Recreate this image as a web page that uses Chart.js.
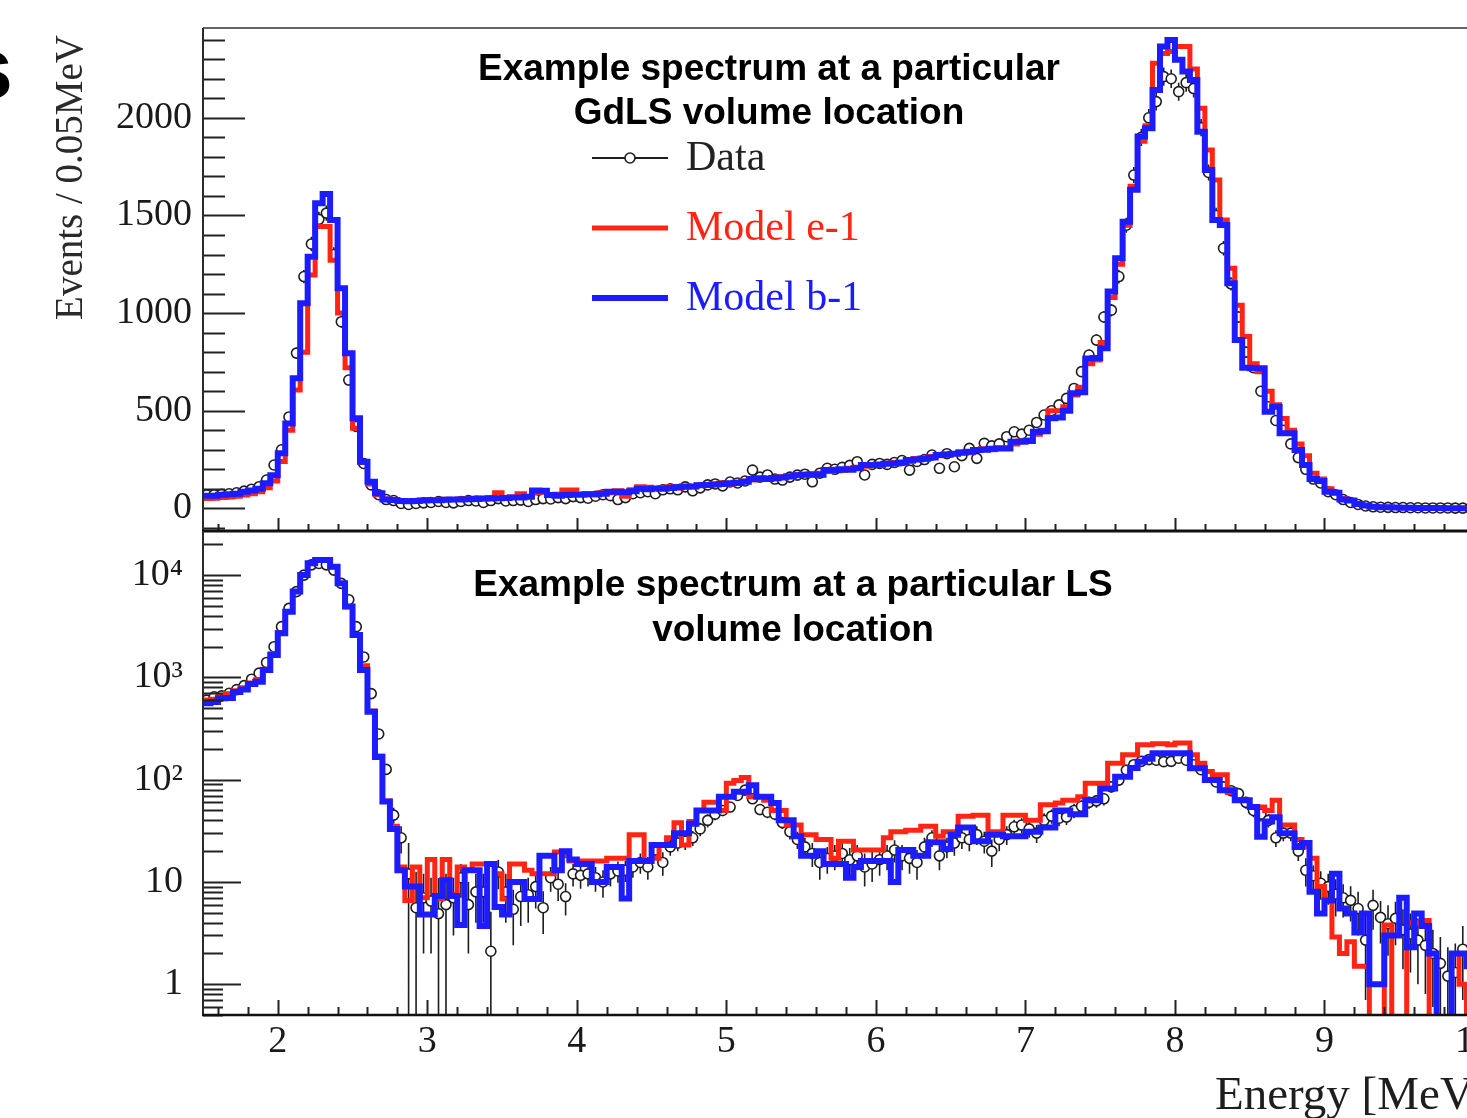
<!DOCTYPE html>
<html><head><meta charset="utf-8">
<script src="https://cdn.jsdelivr.net/npm/chart.js@4.4.1/dist/chart.umd.min.js"></script>
<style>
html,body{margin:0;padding:0;background:#fff;overflow:hidden;width:1467px;height:1118px;}
canvas{position:absolute;left:0;}
#topPanel{top:0;}
#botPanel{top:500px;}
</style></head><body>
<canvas id="topPanel" width="1520" height="545"></canvas>
<canvas id="botPanel" width="1520" height="618"></canvas>
<script>
// ---------------- data ----------------
const binStart = 1.5;           // MeV, left edge of first bin
const binWidth = 0.05;          // MeV
const energyTicks = [2,3,4,5,6,7,8,9,10];
const gdlsTicks = [0,500,1000,1500,2000];
const lsTicks = [1,10,100,1000,10000];
const lsTickLabels = ['1','10','10\u00B2','10\u00B3','10\u2074'];
const seriesNames = ['Data','Model e-1','Model b-1'];
const gdlsTitle = ['Example spectrum at a particular','GdLS volume location'];
const lsTitle = ['Example spectrum at a particular LS','volume location'];
const yTitle = 'Events / 0.05MeV';
const xTitle = 'Energy [MeV]';

// top panel (GdLS), linear
const gdlsModelB = [65,65,70,72,75,85,92,100,128,170,
282,435,666,1050,1289,1562,1610,1477,1127,794,
461,239,136,77,45,43,38,36,38,40,
42,42,44,45,45,46,48,50,50,52,
53,55,55,60,92,90,68,65,68,70,
70,72,72,75,85,85,82,88,100,98,
102,100,104,108,110,112,118,120,122,125,
128,130,136,150,154,150,155,158,165,170,
172,175,172,196,195,200,198,205,222,222,
225,228,230,235,247,250,255,260,273,275,
280,285,290,299,300,305,307,307,341,341,
345,392,395,461,465,500,589,595,768,770,
820,1110,1281,1468,1631,1904,1947,2143,2365,2399,
2297,2237,2194,1929,1733,1477,1451,1153,862,720,
717,717,495,520,384,384,299,222,150,140,
85,80,45,40,22,15,8,6,5,4,
3,3,2,2,2,2,1,1,1,1];
const gdlsModelE = [50,52,55,58,62,68,75,85,105,140,
240,400,606,800,1195,1443,1443,1270,1000,720,
410,235,125,70,48,40,38,36,40,42,
44,40,46,45,48,50,52,48,55,80,
55,58,75,60,80,85,70,72,94,94,
72,75,70,80,80,90,62,95,110,108,
100,106,110,104,115,110,120,118,125,130,
125,135,140,145,150,155,150,162,160,172,
175,170,180,190,200,195,205,210,215,225,
220,230,235,232,240,255,250,265,270,280,
278,290,285,300,305,300,310,310,330,345,
350,380,400,500,500,520,580,620,740,760,
850,1080,1250,1450,1650,1880,1960,2280,2330,2340,
2365,2365,2250,2049,1835,1682,1477,1230,1040,880,
740,700,600,530,460,400,330,270,180,150,
100,80,50,40,25,15,10,7,5,4,
3,3,2,2,2,1,1,1,1,1];
const gdlsData = [68,70,72,75,80,88,98,111,145,222,
300,468,795,1187,1354,1480,1512,1300,956,657,
420,230,120,70,45,40,25,20,25,28,
30,35,30,28,35,40,38,30,40,50,
38,40,42,35,45,50,48,55,50,60,
55,52,62,70,65,45,55,75,80,85,
75,95,100,95,110,90,105,120,125,115,
135,130,140,196,160,171,150,145,160,170,
175,136,180,205,200,210,220,239,171,225,
230,225,235,245,196,240,250,273,205,280,
213,270,307,256,333,320,330,367,392,380,
400,440,478,500,530,563,614,700,785,862,
980,1015,1187,1450,1707,1900,2000,2083,2211,2200,
2134,2180,2150,1950,1720,1500,1332,1150,980,800,
720,600,520,450,400,330,260,200,150,130,
85,70,45,30,20,12,8,6,5,4,
4,3,3,2,2,2,2,1,1,1];
const gdlsDataErr = [10,10,10,10,10,11,11,12,13,16,
18,22,28,34,37,39,39,37,31,26,
20,16,12,10,8,8,7,7,7,7,
7,7,7,7,7,7,7,7,7,8,
8,8,8,7,8,8,8,8,8,8,
8,8,8,9,9,8,8,9,9,10,
9,10,10,10,10,10,10,11,11,11,
12,11,12,14,13,13,12,12,13,13,
13,12,13,14,14,15,15,15,13,15,
15,15,15,16,14,15,16,17,15,17,
15,17,18,16,18,18,18,19,20,20,
20,21,22,22,23,24,25,26,28,30,
31,32,35,38,41,44,45,46,47,47,
46,47,46,44,41,39,37,34,31,28,
27,25,23,21,20,18,16,14,12,11,
9,8,7,6,5,4,3,3,2,2,
2,2,2,2,2,2,2,1,1,1];

// bottom panel (LS), log
const lsModelB = [558,575,624,630,720,760,860,908,1182,1656,
2700,4390,6900,10040,13070,14080,14080,12100,8330,4920,
2600,1182,462,167,61,33,13,9,9,4.8,
4.8,7.3,10.4,7.3,3.8,13,13,3.7,15,5.7,
4.8,10,10,6.8,6.8,18,18,13,20,16.6,
15,15,10,10,14,14,6.9,16,16,16,
23,23,23,30,30,37,50,50,50,68,
68,76,76,88,68,68,59,40,40,28,
18,18,20,15,15,15,11,14,16,16,
16,16,10,20.5,20.5,18,18,24.5,24.5,21,
29,34,34,25,25,29,29,28,28,28,
31,31,34,34,50,50,46,46,63,63,
82,82,107,107,130,150,160,181,181,181,
181,181,129,129,99,99,79,79,63,63,
54,27.6,39,43,30,30,22,24,8,4.9,
6.6,12,5.5,4.9,3.2,4.9,1.0,1.0,3.0,3.0,
7,2.3,4.9,3.7,2.0,0,0,2.0,2.0,1.5];
const lsModelE = [600,610,650,690,740,790,880,950,1200,1700,
2750,4400,6900,10000,13000,14000,14000,12000,8300,4900,
2600,1300,470,170,62,35,14,6.6,14,7,
16.6,6.8,16.6,7.5,14,13,15,15,15,12,
6.8,15,15,13,12,12,12,19.6,18,16,
16,16,16,16,17,17,17,29,29,16,
17,23,27,38,23,39,50,60,60,50,
92,98,105,68,68,63,50,50,36,36,
29,29,26,26,17,25,25,20.5,20.5,20.5,
20.5,27,31,31,32,32,35,35,28,31,
31,44,44,45,45,31,31,45,45,45,
40,40,57,57,59,63,63,68,92,92,
92,145,145,175,175,220,220,225,225,220,
228,228,175,145,120,112,112,75,63,63,
54,54,50,63,36,36,26,22,17,9,
6.6,2.9,2.0,2.6,1.5,1.5,0,0,3.8,0,
0,4.0,4.0,4.2,0,0,0,2.0,1.0,0];
const lsData = [600,647,660,700,760,830,960,1100,1400,1996,
3133,4730,6900,10000,12600,13000,12600,11200,8300,5750,
3133,1585,694,280,126,45,27,12,5.6,7,
6.5,4.9,6,7,11,6,8,8,2.1,12.5,
8,5.4,7.2,7.5,9,5.6,11,9.5,7.2,12,
11.6,12,11,10,12,12.8,13,14,15.5,14,
20.5,15.5,22,24,25,27,33,40,46,50,
54,70,79,65,51,48,46,38,31,26,
22,19,15.5,17,18,19,16.5,18,14,15,
16.5,18,20.5,18,17,15.5,22,27,18,22,
24,27,26,29,25,20,26,29,34.6,36,
33,30,40,44,42,43,50,55,60,62,
65,85,99,124,140,151,157,155,150,151,
162,155,140,125,107,95,85,78,73,60,
50,46,40,27,30,30,20,13,11.5,9.7,
9,7.6,7,6.6,5.5,2.7,5.9,4.5,3.9,4.4,
3.4,3.1,2.7,2.4,2.0,1.6,1.2,1.3,2.2,1.8];
const lsDataErr = [25,25,26,26,28,29,31,33,37,45,
56,69,83,100,112,114,112,106,91,76,
56,40,26,17,11,8,8,12,7,5,
4.5,6,6,4,4,4,4,4,3,4,
4,3,3.5,3.5,3.5,2.5,3,3,2.5,3,
3,3,3,3,3,3,3,3,3.5,3.5,
4,4,4,4,4.5,4.5,5,6,6,6,
6,7,7,7,6,6,6,5,5,5,
5,5,5,5,5,5,5,5,5,5,
5,5,5,5,5,5,5,5,5,5,
6,6,6,6,6,6,6,6,6,6,
6,6,7,7,7,7,8,8,8,9,
9,10,11,12,13,13,13,13,13,13,
13,13,12,12,11,10,10,9,9,8,
7,7,6,5,5,5,4,4,3,3,
3,3,2.5,2.5,2.5,2,2.5,2,2,2,
2,1.8,1.7,1.6,1.4,1.3,1.1,1.2,1.5,1.4];

// ---------------- styling ----------------
const RED = '#ff2414', BLUE = '#1c1cff', INK = '#1e1e1e';
const SERIF = '"Liberation Serif","Times New Roman",serif';
const SANS = '"Liberation Sans",Arial,sans-serif';

const nBins = gdlsData.length;
const edges = Array.from({length: nBins + 1}, (_, i) => +(binStart + i * binWidth).toFixed(3));
const centers = edges.slice(0, -1).map(e => +(e + binWidth / 2).toFixed(3));
function histPoints(vals, floor) {
  const pts = vals.map((v, i) => ({x: edges[i], y: v > 0 ? v : floor}));
  pts.push({x: edges[nBins], y: pts[nBins - 1].y});
  return pts;
}
function dataPoints(vals) { return vals.map((v, i) => ({x: centers[i], y: v})); }

function datasets(dataVals, eVals, bVals, floor) {
  return [
    {label: seriesNames[0], data: dataPoints(dataVals), showLine: false, pointRadius: 5, pointBorderWidth: 1.6,
     pointBorderColor: INK, pointBackgroundColor: '#fff', borderColor: INK, order: 2},
    {label: seriesNames[1], data: histPoints(eVals, floor), stepped: 'before', borderColor: RED, borderWidth: 5,
     pointRadius: 0, fill: false, borderJoinStyle: 'miter', order: 1},
    {label: seriesNames[2], data: histPoints(bVals, floor), stepped: 'before', borderColor: BLUE, borderWidth: 6,
     pointRadius: 0, fill: false, borderJoinStyle: 'miter', order: 0}
  ];
}

function drawErrorBars(chart, errs) {
  const xs = chart.scales.x, ys = chart.scales.y, a = chart.chartArea, ctx = chart.ctx;
  ctx.save();
  ctx.beginPath(); ctx.rect(a.left, a.top, a.right - a.left, a.bottom - a.top); ctx.clip();
  ctx.strokeStyle = INK; ctx.lineWidth = 1.6; ctx.beginPath();
  chart.data.datasets[0].data.forEach((p, i) => {
    const e = errs[i];
    const px = xs.getPixelForValue(p.x);
    const top = ys.getPixelForValue(p.y + e);
    const bot = (p.y - e > ys.min) ? ys.getPixelForValue(p.y - e) : a.bottom + 2;
    ctx.moveTo(px, top); ctx.lineTo(px, bot);
  });
  ctx.stroke(); ctx.restore();
}

function drawXTicks(chart, majorLen, minorLen) {
  const xs = chart.scales.x, a = chart.chartArea, ctx = chart.ctx;
  ctx.save(); ctx.strokeStyle = '#222'; ctx.lineWidth = 2; ctx.beginPath();
  for (let k = Math.ceil(xs.min / 0.2); k * 0.2 <= xs.max + 1e-9; k++) {
    const e = k * 0.2;
    const major = Math.abs(e - Math.round(e)) < 1e-6;
    const px = Math.round(xs.getPixelForValue(e)) + 0.5;
    ctx.moveTo(px, a.bottom); ctx.lineTo(px, a.bottom - (major ? majorLen : minorLen));
  }
  ctx.stroke(); ctx.restore();
}

function drawYTicks(chart, list, majorLen, minorLen) {
  const ys = chart.scales.y, a = chart.chartArea, ctx = chart.ctx;
  ctx.save(); ctx.strokeStyle = '#222'; ctx.lineWidth = 2; ctx.beginPath();
  list.forEach(t => {
    if (t.v < ys.min || t.v > ys.max) return;
    const py = Math.round(ys.getPixelForValue(t.v)) + 0.5;
    ctx.moveTo(a.left, py); ctx.lineTo(a.left + (t.major ? majorLen : minorLen), py);
  });
  ctx.stroke(); ctx.restore();
}

function drawLines(ctx, lines, cx, cy0, dy, font) {
  ctx.save(); ctx.font = font; ctx.fillStyle = '#000'; ctx.textAlign = 'center'; ctx.textBaseline = 'middle';
  lines.forEach((t, i) => ctx.fillText(t, cx, cy0 + i * dy));
  ctx.restore();
}

// ---------------- top panel ----------------
const topTickList = [];
for (let v = -100; v <= 2400; v += 100) topTickList.push({v, major: gdlsTicks.includes(v)});

const topDecor = {
  id: 'topDecor',
  beforeDatasetsDraw(chart) { drawErrorBars(chart, gdlsDataErr); },
  afterDraw(chart) {
    const ctx = chart.ctx, a = chart.chartArea;
    drawXTicks(chart, 13, 7);
    drawYTicks(chart, topTickList, 42, 22);
    ctx.save();
    ctx.strokeStyle = '#666'; ctx.lineWidth = 2;
    ctx.beginPath(); ctx.moveTo(a.left, a.top); ctx.lineTo(chart.width, a.top); ctx.stroke();
    ctx.strokeStyle = '#2a2a2a'; ctx.lineWidth = 2;
    ctx.beginPath(); ctx.moveTo(a.left, a.top); ctx.lineTo(a.left, a.bottom); ctx.stroke();
    ctx.strokeStyle = '#111'; ctx.lineWidth = 3;
    ctx.beginPath(); ctx.moveTo(a.left - 1, a.bottom); ctx.lineTo(chart.width, a.bottom); ctx.stroke();
    ctx.restore();
    // panel title
    drawLines(ctx, gdlsTitle, 769, 70, 44, 'bold 37px ' + SANS);
    // legend
    const ds = chart.data.datasets;
    const rows = [{y: 158, w: 2, c: INK, marker: true}, {y: 228, w: 5, c: RED}, {y: 298, w: 6, c: BLUE}];
    ctx.save();
    ctx.font = '42px ' + SERIF; ctx.textBaseline = 'middle'; ctx.textAlign = 'left';
    rows.forEach((r, i) => {
      ctx.strokeStyle = r.c; ctx.lineWidth = r.w;
      ctx.beginPath(); ctx.moveTo(592, r.y); ctx.lineTo(668, r.y); ctx.stroke();
      if (r.marker) {
        ctx.lineWidth = 1.6; ctx.fillStyle = '#fff';
        ctx.beginPath(); ctx.arc(630, r.y, 5, 0, Math.PI * 2); ctx.fill(); ctx.stroke();
      }
      ctx.fillStyle = i === 0 ? '#222' : r.c;
      ctx.fillText(ds[i].label, 686, r.y + 1);
    });
    ctx.restore();
    // y-axis title
    ctx.save();
    ctx.font = '39px ' + SERIF; ctx.fillStyle = '#2a2a2a';
    ctx.translate(72, 35); ctx.rotate(-Math.PI / 2);
    ctx.textAlign = 'right'; ctx.textBaseline = 'middle';
    ctx.fillText(yTitle, 0, 0);
    ctx.restore();
    // clipped figure-label letter at the page edge
    ctx.save(); ctx.font = 'bold 88px ' + SANS; ctx.fillStyle = '#000'; ctx.textBaseline = 'alphabetic';
    ctx.fillText('s', -36, 98); ctx.restore();
  }
};

new Chart(document.getElementById('topPanel'), {
  type: 'line',
  data: {datasets: datasets(gdlsData, gdlsModelE, gdlsModelB, 0)},
  options: {
    responsive: false, animation: false, events: [],
    layout: {padding: {left: 0, top: 28, right: 46, bottom: 14}},
    scales: {
      x: {type: 'linear', min: 1.5, max: 10, display: false},
      y: {type: 'linear', min: -116, max: 2460, position: 'left',
          grid: {display: false, drawTicks: false}, border: {display: false},
          ticks: {font: {family: SERIF, size: 38}, color: '#1a1a1a', padding: 11, callback: v => String(v)},
          afterBuildTicks: s => { s.ticks = gdlsTicks.map(v => ({value: v})); },
          afterFit: s => { s.width = 203; s.paddingTop = 0; s.paddingBottom = 0; }}
    },
    plugins: {legend: {display: false}, tooltip: {enabled: false}, title: {display: false}}
  },
  plugins: [topDecor]
});

// ---------------- bottom panel ----------------
const botTickList = [];
for (let d = -1; d <= 4; d++) for (let m = 1; m <= 9; m++) botTickList.push({v: m * Math.pow(10, d), major: m === 1});

const botDecor = {
  id: 'botDecor',
  beforeDatasetsDraw(chart) { drawErrorBars(chart, lsDataErr); },
  afterDraw(chart) {
    const ctx = chart.ctx, a = chart.chartArea;
    drawXTicks(chart, 15, 8);
    drawYTicks(chart, botTickList, 38, 20);
    ctx.save();
    ctx.strokeStyle = '#2a2a2a'; ctx.lineWidth = 2;
    ctx.beginPath(); ctx.moveTo(a.left, a.top); ctx.lineTo(a.left, a.bottom); ctx.stroke();
    ctx.strokeStyle = '#111'; ctx.lineWidth = 2.5;
    ctx.beginPath(); ctx.moveTo(a.left - 1, a.bottom); ctx.lineTo(chart.width, a.bottom); ctx.stroke();
    ctx.restore();
    drawLines(ctx, lsTitle, 793, 86, 45, 'bold 37px ' + SANS);
    ctx.save(); ctx.font = '47px ' + SERIF; ctx.fillStyle = '#1e1e1e';
    ctx.textAlign = 'left'; ctx.textBaseline = 'middle';
    ctx.fillText(xTitle, 1215, 597); ctx.restore();
  }
};

new Chart(document.getElementById('botPanel'), {
  type: 'line',
  data: {datasets: datasets(lsData, lsModelE, lsModelB, 0.05)},
  options: {
    responsive: false, animation: false, events: [],
    layout: {padding: {left: 0, top: 31, right: 46, bottom: 0}},
    scales: {
      x: {type: 'linear', min: 1.5, max: 10, position: 'bottom',
          grid: {display: false, drawTicks: false}, border: {display: false},
          ticks: {font: {family: SERIF, size: 38}, color: '#1a1a1a', padding: 4, autoSkip: false, maxRotation: 0,
                  callback: v => String(v)},
          afterBuildTicks: s => { s.ticks = energyTicks.map(v => ({value: v})); },
          afterFit: s => { s.height = 103; s.paddingLeft = 0; s.paddingRight = 0; }},
      y: {type: 'logarithmic', min: 0.5, max: 27000, position: 'left',
          grid: {display: false, drawTicks: false}, border: {display: false},
          ticks: {font: {family: SERIF, size: 38}, color: '#1a1a1a', padding: 20,
                  callback: (v, i) => lsTickLabels[i]},
          afterBuildTicks: s => { s.ticks = lsTicks.map(v => ({value: v})); },
          afterFit: s => { s.width = 203; s.paddingTop = 0; s.paddingBottom = 0; }}
    },
    plugins: {legend: {display: false}, tooltip: {enabled: false}, title: {display: false}}
  },
  plugins: [botDecor]
});
</script></body></html>
